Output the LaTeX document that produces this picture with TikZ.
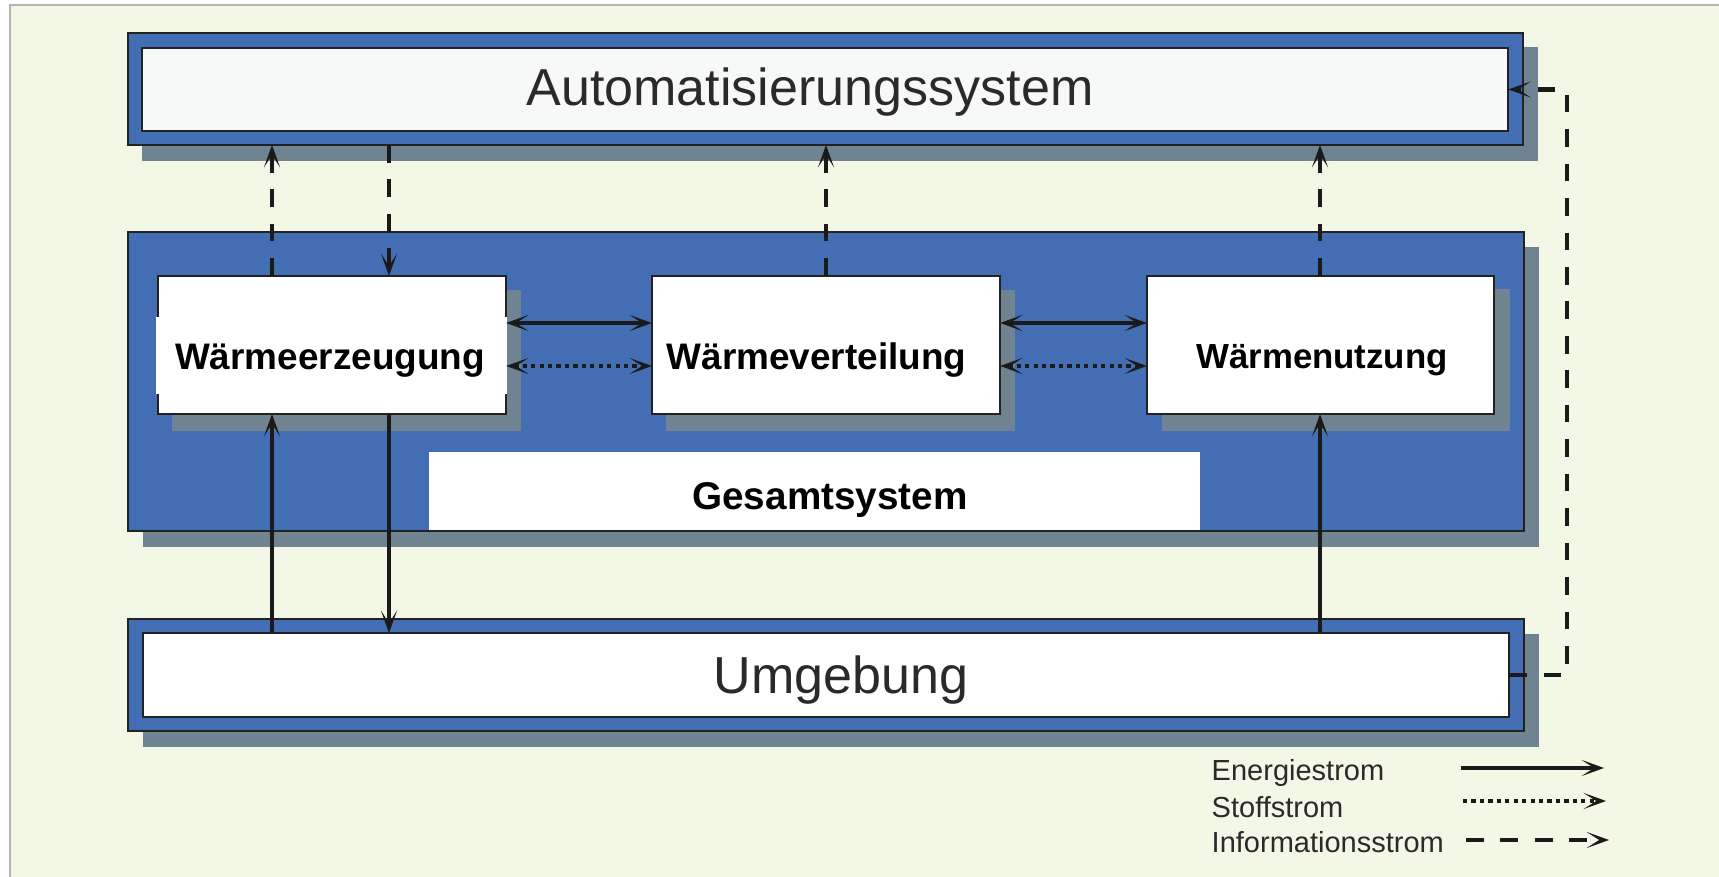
\documentclass[tikz,border=0pt]{standalone}
\usepackage{fontspec}
\setmainfont{Liberation Sans}
\usetikzlibrary{arrows.meta,calc}
\definecolor{bgc}{HTML}{F3F7E6}
\definecolor{framec}{HTML}{B4B4B4}
\definecolor{blueC}{HTML}{446EB4}
\definecolor{shadowC}{HTML}{6F8391}
\definecolor{edgeC}{HTML}{222222}
\definecolor{autoFill}{HTML}{F7F8F8}
\definecolor{txtC}{HTML}{2A2A2A}
\definecolor{arrC}{HTML}{1A1A1A}
\tikzset{
  boxbase/.style={rectangle, inner sep=0pt, outer sep=0pt, draw=edgeC, line width=0.6pt},
  bluebox/.style={boxbase, fill=blueC},
  whitebox/.style={boxbase, fill=white},
  shadowfill/.style={fill=shadowC},
  bigtext/.style={anchor=base, text=txtC, font=\fontsize{14.8}{17}\selectfont},
  boldtext/.style={anchor=base, text=black, font=\bfseries\fontsize{#1}{13}\selectfont},
  legtext/.style={anchor=base west, inner sep=0pt, text=txtC, font=\fontsize{8.25}{9.5}\selectfont},
  energy/.style={draw=arrC, line width=1.4pt},
  stoff/.style={draw=arrC, line width=1.3pt, dash pattern=on 1.2pt off 1.2pt},
  info/.style={draw=arrC, line width=1.3pt, dash pattern=on 5pt off 4.8pt},
  >={Stealth[length=6.4pt,width=4.6pt,inset=3.6pt]}
}
\begin{document}
\begin{tikzpicture}[x=0.01cm,y=-0.01cm]
\useasboundingbox (0,0) rectangle (1719,877);
\fill[white] (0,0) rectangle (1719,877);
\fill[bgc] (10,5) rectangle (1719,877);
\draw[framec, line width=0.8pt] (10,877) -- (10,5) -- (1719,5);

% shadows of big boxes
\fill[shadowfill] (142,47) rectangle (1538,161);
\fill[shadowfill] (143,247) rectangle (1539,547);
\fill[shadowfill] (143,634) rectangle (1539,747);

% Automatisierungssystem
\node[bluebox, minimum width=13.95cm, minimum height=1.12cm] (autoO) at (825.5,89) {};
\node[whitebox, fill=autoFill, minimum width=13.66cm, minimum height=0.83cm] (autoI) at (825,89.5) {};
\node[bigtext] (tAuto) at (810,106) {Automatisierungssystem};

% Gesamtsystem
\node[bluebox, minimum width=13.96cm, minimum height=2.99cm] (gesO) at (826,381.5) {};

% inner box shadows
\fill[shadowfill] (172,290) rectangle (521,431);
\fill[shadowfill] (666,290) rectangle (1015,431);
\fill[shadowfill] (1162,289) rectangle (1510,431);

\node[whitebox, minimum width=3.48cm, minimum height=1.38cm] (we) at (332,345) {};
\node[whitebox, minimum width=3.48cm, minimum height=1.38cm] (wv) at (826,345) {};
\node[whitebox, minimum width=3.47cm, minimum height=1.38cm] (wn) at (1320.5,345) {};
\fill[white] (156,317) rectangle (506.5,394);

\node[boldtext=10.5] (tWE) at (330,370) {Wärmeerzeugung};
\node[boldtext=10.5] (tWV) at (816.5,370) {Wärmeverteilung};
\node[boldtext=9.9] (tWN) at (1322,369) {Wärmenutzung};

\fill[white] (429,452) rectangle (1200,530);
\node[boldtext=11] (tGes) at (830,510) {Gesamtsystem};

% Umgebung
\node[bluebox, minimum width=13.96cm, minimum height=1.12cm] (umgO) at (826,675) {};
\node[whitebox, minimum width=13.66cm, minimum height=0.84cm] (umgI) at (826,675) {};
\node[bigtext] (tUmg) at (841,693) {Umgebung};

% connector x/y positions
\coordinate (xA) at (272,0);
\coordinate (xB) at (389,0);
\coordinate (xC) at (826,0);
\coordinate (xD) at (1320,0);
\coordinate (yE) at (0,323);
\coordinate (yS) at (0,366);
\coordinate (cR1) at (1567,675);
\coordinate (cR2) at (1567,89.5);

% information flows
\draw[info,->] (we.north -| xA) -- (autoO.south -| xA);
\draw[info,->] (autoO.south -| xB) -- (we.north -| xB);
\draw[info,->] (wv.north -| xC) -- (autoO.south -| xC);
\draw[info,->] (wn.north -| xD) -- (autoO.south -| xD);
\draw[info,->] (umgI.east) -- (cR1) -- (cR2) -- (autoI.east);

% energy flows
\draw[energy,->] (umgI.north -| xA) -- (we.south -| xA);
\draw[energy,->] (we.south -| xB) -- (umgI.north -| xB);
\draw[energy,->] (umgI.north -| xD) -- (wn.south -| xD);
\draw[energy,<->] (we.east |- yE) -- (wv.west |- yE);
\draw[energy,<->] (wv.east |- yE) -- (wn.west |- yE);

% material flows
\draw[stoff,<->] (we.east |- yS) -- (wv.west |- yS);
\draw[stoff,<->] (wv.east |- yS) -- (wn.west |- yS);

% legend
\node[legtext] (lE) at (1211,781) {Energiestrom};
\node[legtext] (lS) at (1211,817) {Stoffstrom};
\node[legtext] (lI) at (1211,852) {Informationsstrom};
\coordinate (lE1) at (1461,768); \coordinate (lE2) at (1604,768);
\coordinate (lS1) at (1463,801); \coordinate (lS2) at (1606,801);
\coordinate (lI1) at (1466,840); \coordinate (lI2) at (1609,840);
\draw[energy,->] (lE1) -- (lE2);
\draw[stoff,->] (lS1) -- (lS2);
\draw[info,->] (lI1) -- (lI2);
\end{tikzpicture}
\end{document}
